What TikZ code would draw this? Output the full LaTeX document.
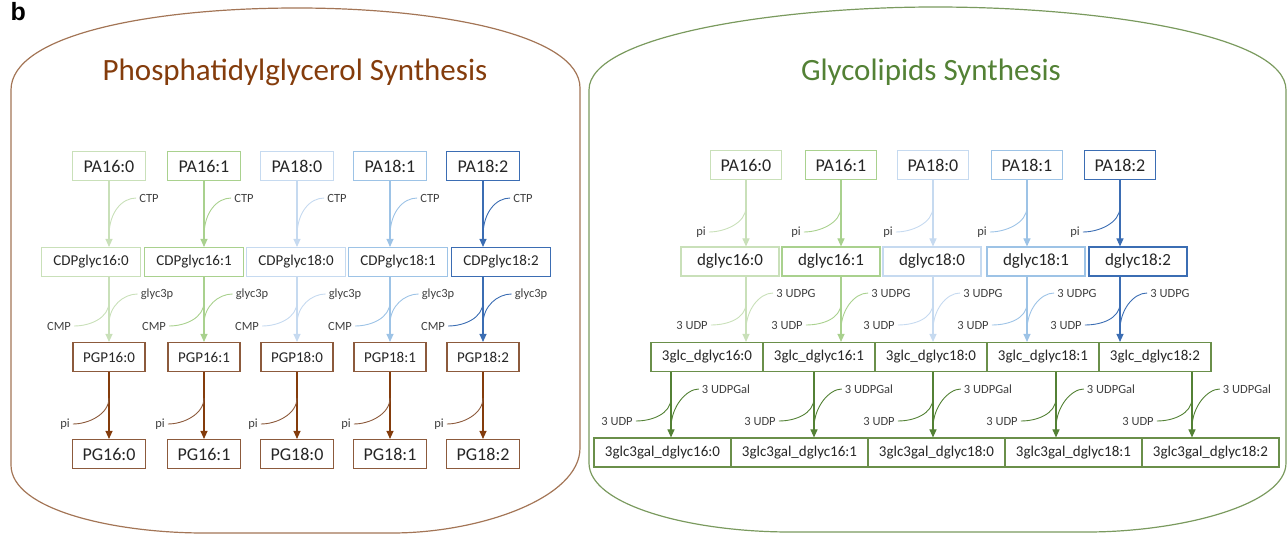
\documentclass[tikz,border=0pt]{standalone}
\usepackage{fontspec}
\setmainfont{Carlito}
\newfontfamily\panelfont{Liberation Sans}
\usepackage{tikz}
\usetikzlibrary{arrows.meta}
\usepackage{xcolor}

\definecolor{brownT}{HTML}{843C0C}
\definecolor{brownB}{HTML}{8C5A3C}
\definecolor{brownP}{HTML}{A37556}
\definecolor{greenT}{HTML}{538135}
\definecolor{greenB}{HTML}{6A8F4A}
\definecolor{greenP}{HTML}{7A9A5E}
\definecolor{cA}{HTML}{C9E0B9}
\definecolor{cB}{HTML}{A9D18E}
\definecolor{cC}{HTML}{C6DAF0}
\definecolor{cD}{HTML}{9DC3E6}
\definecolor{cE}{HTML}{3B6DB3}
\definecolor{lblgray}{HTML}{404040}

\begin{document}
\begin{tikzpicture}[x=1pt,y=-1pt,
    box/.style={draw,line width=1.1pt,inner sep=0pt,minimum height=29pt,text=black!85},
    big/.style={box,font=\fontsize{18}{20}\selectfont,minimum width=73pt},
    mid/.style={box,font=\fontsize{15}{17}\selectfont},
    lbl/.style={font=\fontsize{12.5}{14}\selectfont,text=lblgray,inner sep=3pt},
    arr/.style={line width=1.1pt,-{Triangle[length=8pt,width=7pt]}},
    side/.style={line width=0.9pt}]
        \useasboundingbox (0,0) rectangle (1288,534);

        % --- 外枠 ---
        \draw[brownP,line width=1.2pt] (11,465) -- (11,90)
          .. controls (11,35) and (150,8) .. (297,8)
          .. controls (440,8) and (580,35) .. (580,88)
          -- (580,448) .. controls (580,498) and (480,533) .. (392,533)
          -- (204,533) .. controls (115,533) and (11,510) .. cycle;
        \draw[greenP,line width=1.2pt] (589,463) -- (589,90)
          .. controls (589,35) and (780,7) .. (935,7)
          .. controls (1100,7) and (1286,35) .. (1286,90)
          -- (1286,463) .. controls (1286,505) and (1180,532) .. (1087,532)
          -- (790,532) .. controls (690,532) and (589,505) .. cycle;

        % ラベル
        \node[anchor=base west,font=\panelfont\bfseries\fontsize{25}{25}\selectfont] (fig) at (7,21) {b};
        \node[anchor=base,text=brownT,font=\fontsize{31}{34}\selectfont] (ttlL) at (295,81) {Phosphatidylglycerol Synthesis};
        \node[anchor=base,text=greenT,font=\fontsize{31}{34}\selectfont] (ttlR) at (931,81) {Glycolipids Synthesis};

        % --- PG合成 ---
        \foreach \i/\x/\cx/\lip/\col in {1/109/91/16:0/cA,2/204/194/16:1/cB,3/297/296/18:0/cC,4/390/398/18:1/cD,5/483/501/18:2/cE}{
          \node[big,draw=\col] (pa\i) at (\x,166) {PA\lip};
          \node[mid,draw=\col,minimum width=99pt] (cdp\i) at (\cx,262) {CDPglyc\lip};
          \node[mid,draw=brownB,minimum width=72pt] (pgp\i) at (\x,357) {PGP\lip};
          \node[big,draw=brownB] (pg\i) at (\x,454) {PG\lip};
          % 主経路
          \draw[arr,\col] (pa\i) -- (pa\i |- cdp\i.north);
          \draw[arr,\col] (cdp\i.south -| pa\i) -- (pgp\i);
          \draw[arr,brownT] (pgp\i) -- (pg\i);
          % 補助基質
          \node[lbl] (ctp\i) at (\x+40,198) {CTP};
          \node[lbl] (g3p\i) at (\x+48,294) {glyc3p};
          \node[lbl] (cmp\i) at (\x-50,326) {CMP};
          \node[lbl] (piL\i) at (\x-44,424) {pi};
          \coordinate (jc\i) at (\x,236);
          \coordinate (jg\i) at (\x,324);
          \coordinate (jm\i) at (\x,302);
          \coordinate (jp\i) at (\x,398);
          \draw[side,\col] (ctp\i.west) .. controls +(-14,0) and +(0,-24) .. (jc\i);
          \draw[side,\col] (g3p\i.west) .. controls +(-14,0) and +(0,-18) .. (jg\i);
          \draw[side,\col] (cmp\i.east) .. controls +(16,0) and +(0,16) .. (jm\i);
          \draw[side,brownB] (piL\i.east) .. controls +(16,0) and +(0,16) .. (jp\i);
        }

        % --- 糖脂質合成 ---
        \foreach \i/\x/\dx/\gx/\lx/\ax/\lip/\col in {1/746/730/707/671/662.5/16:0/cA,2/841/831/819/814/799.5/16:1/cB,3/933/932/931/933/936.5/18:0/cC,4/1027/1036/1043/1056/1073.5/18:1/cD,5/1120/1138/1155/1192/1210.5/18:2/cE}{
          \node[big,draw=\col,minimum width=71pt] (pr\i) at (\x,165) {PA\lip};
          \node[box,draw=\col,font=\fontsize{17}{19}\selectfont,minimum width=98pt] (dg\i) at (\dx,261.5) {dglyc\lip};
          \node[mid,draw=greenB,minimum width=112pt] (glc\i) at (\gx,357) {3glc\_dglyc\lip};
          \node[mid,draw=greenB,minimum width=137pt] (gal\i) at (\ax,452.5) {3glc3gal\_dglyc\lip};
          \coordinate (lo\i) at (\lx,400);
          % 主経路
          \draw[arr,\col] (pr\i) -- (pr\i |- dg\i.north);
          \draw[arr,\col] (dg\i.south -| pr\i) -- (pr\i |- glc\i.north);
          \draw[arr,greenT] (glc\i.south -| lo\i) -- (lo\i |- gal\i.north);
          % 補助基質
          \node[lbl] (piR\i) at (\x-45,232) {pi};
          \node[lbl] (ug\i) at (\x+50,293) {3 UDPG};
          \node[lbl] (ud\i) at (\x-54,325) {3 UDP};
          \node[lbl] (ugal\i) at (\lx+55,389) {3 UDPGal};
          \node[lbl] (udb\i) at (\lx-54,421) {3 UDP};
          \coordinate (kp\i) at (\x,207);
          \coordinate (kg\i) at (\x,330);
          \coordinate (kd\i) at (\x,303);
          \coordinate (ka\i) at (\lx,428);
          \coordinate (kb\i) at (\lx,398);
          \draw[side,\col] (piR\i.east) .. controls +(16,0) and +(0,16) .. (kp\i);
          \draw[side,\col] (ug\i.west) .. controls +(-14,0) and +(0,-20) .. (kg\i);
          \draw[side,\col] (ud\i.east) .. controls +(16,0) and +(0,16) .. (kd\i);
          \draw[side,greenT] (ugal\i.west) .. controls +(-12,0) and +(0,-22) .. (ka\i);
          \draw[side,greenT] (udb\i.east) .. controls +(16,0) and +(0,16) .. (kb\i);
        }
      \end{tikzpicture}
\end{document}
